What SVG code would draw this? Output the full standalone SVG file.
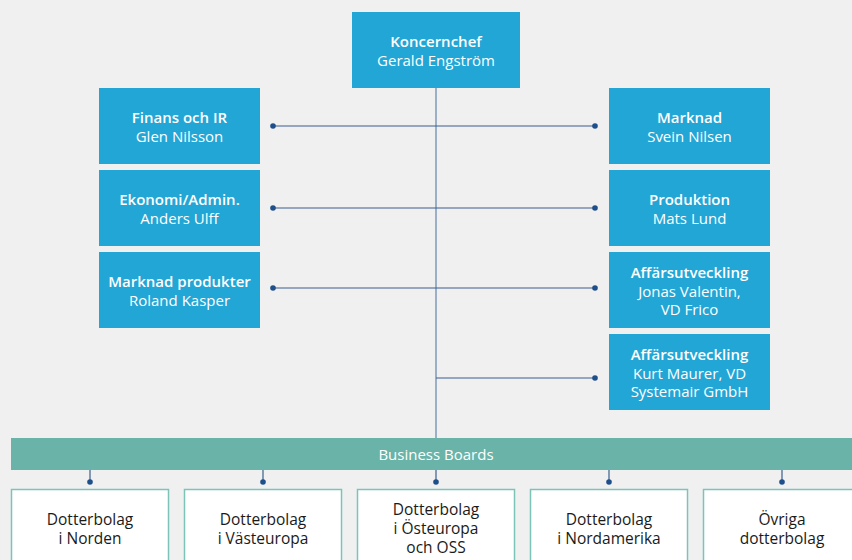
<svg xmlns="http://www.w3.org/2000/svg" width="852" height="560" viewBox="0 0 852 560">
<style>
.bg{fill:#f0f0f0}
.box{fill:#22a6d6}
.bar{fill:#69b3a8}
.sub{fill:#ffffff;stroke:#7cc3b8;stroke-width:1.5}
.line{stroke:#3a5f8f;stroke-width:1.2;fill:none}
.vline{stroke:#7f9bb9;stroke-width:1.5;fill:none}
.dot{fill:#1d4f8a}
text{font-family:"Open Sans","Noto Sans",sans-serif;font-size:15px;text-anchor:middle}
.w{fill:#ffffff}
.t{font-weight:600}
.k{fill:#1a1a1a;font-size:15.5px}
</style>
<rect class="bg" x="0" y="0" width="852" height="560"/>
<g id="connectors">
<line class="vline" x1="436" y1="88" x2="436" y2="438"/>
<line class="line" x1="273" y1="126" x2="595" y2="126"/>
<line class="line" x1="273" y1="208" x2="595" y2="208"/>
<line class="line" x1="273" y1="288" x2="595" y2="288"/>
<line class="line" x1="436" y1="378" x2="595" y2="378"/>
<circle class="dot" cx="273" cy="126" r="2.8"/><circle class="dot" cx="595" cy="126" r="2.8"/>
<circle class="dot" cx="273" cy="208" r="2.8"/><circle class="dot" cx="595" cy="208" r="2.8"/>
<circle class="dot" cx="273" cy="288" r="2.8"/><circle class="dot" cx="595" cy="288" r="2.8"/>
<circle class="dot" cx="595" cy="378" r="2.8"/>
<line class="line" x1="90" y1="470" x2="90" y2="482"/><circle class="dot" cx="90" cy="482" r="2.8"/>
<line class="line" x1="263" y1="470" x2="263" y2="482"/><circle class="dot" cx="263" cy="482" r="2.8"/>
<line class="line" x1="436" y1="470" x2="436" y2="482"/><circle class="dot" cx="436" cy="482" r="2.8"/>
<line class="line" x1="609" y1="470" x2="609" y2="482"/><circle class="dot" cx="609" cy="482" r="2.8"/>
<line class="line" x1="782" y1="470" x2="782" y2="482"/><circle class="dot" cx="782" cy="482" r="2.8"/>
</g>
<g id="ceo"><rect class="box" x="352" y="12" width="168" height="76"/>
<text class="w t" x="436" y="47">Koncernchef</text><text class="w" x="436" y="66">Gerald Engström</text></g>
<g id="finans"><rect class="box" x="99" y="88" width="161" height="76"/>
<text class="w t" x="179.5" y="123">Finans och IR</text><text class="w" x="179.5" y="142">Glen Nilsson</text></g>
<g id="ekonomi"><rect class="box" x="99" y="170" width="161" height="76"/>
<text class="w t" x="179.5" y="205">Ekonomi/Admin.</text><text class="w" x="179.5" y="224">Anders Ulff</text></g>
<g id="marknadprod"><rect class="box" x="99" y="252" width="161" height="76"/>
<text class="w t" x="179.5" y="287">Marknad produkter</text><text class="w" x="179.5" y="306">Roland Kasper</text></g>
<g id="marknad"><rect class="box" x="609" y="88" width="161" height="76"/>
<text class="w t" x="689.5" y="123">Marknad</text><text class="w" x="689.5" y="142">Svein Nilsen</text></g>
<g id="produktion"><rect class="box" x="609" y="170" width="161" height="76"/>
<text class="w t" x="689.5" y="205">Produktion</text><text class="w" x="689.5" y="224">Mats Lund</text></g>
<g id="affar1"><rect class="box" x="609" y="252" width="161" height="76"/>
<text class="w t" x="689.5" y="278">Affärsutveckling</text><text class="w" x="689.5" y="297">Jonas Valentin,</text><text class="w" x="689.5" y="315">VD Frico</text></g>
<g id="affar2"><rect class="box" x="609" y="334" width="161" height="76"/>
<text class="w t" x="689.5" y="360">Affärsutveckling</text><text class="w" x="689.5" y="379">Kurt Maurer, VD</text><text class="w" x="689.5" y="397">Systemair GmbH</text></g>
<g id="boards"><rect class="bar" x="11" y="438" width="845" height="32"/>
<text class="w" x="436" y="460">Business Boards</text></g>
<g id="norden"><rect class="sub" x="11.5" y="489.5" width="157" height="80"/>
<text class="k" x="90" y="525">Dotterbolag</text><text class="k" x="90" y="544">i Norden</text></g>
<g id="vasteuropa"><rect class="sub" x="184.5" y="489.5" width="157" height="80"/>
<text class="k" x="263" y="525">Dotterbolag</text><text class="k" x="263" y="544">i Västeuropa</text></g>
<g id="osteuropa"><rect class="sub" x="357.5" y="489.5" width="157" height="80"/>
<text class="k" x="436" y="515">Dotterbolag</text><text class="k" x="436" y="534">i Östeuropa</text><text class="k" x="436" y="553">och OSS</text></g>
<g id="nordamerika"><rect class="sub" x="530.5" y="489.5" width="157" height="80"/>
<text class="k" x="609" y="525">Dotterbolag</text><text class="k" x="609" y="544">i Nordamerika</text></g>
<g id="ovriga"><rect class="sub" x="703.5" y="489.5" width="157" height="80"/>
<text class="k" x="782" y="525">Övriga</text><text class="k" x="782" y="544">dotterbolag</text></g>
</svg>
